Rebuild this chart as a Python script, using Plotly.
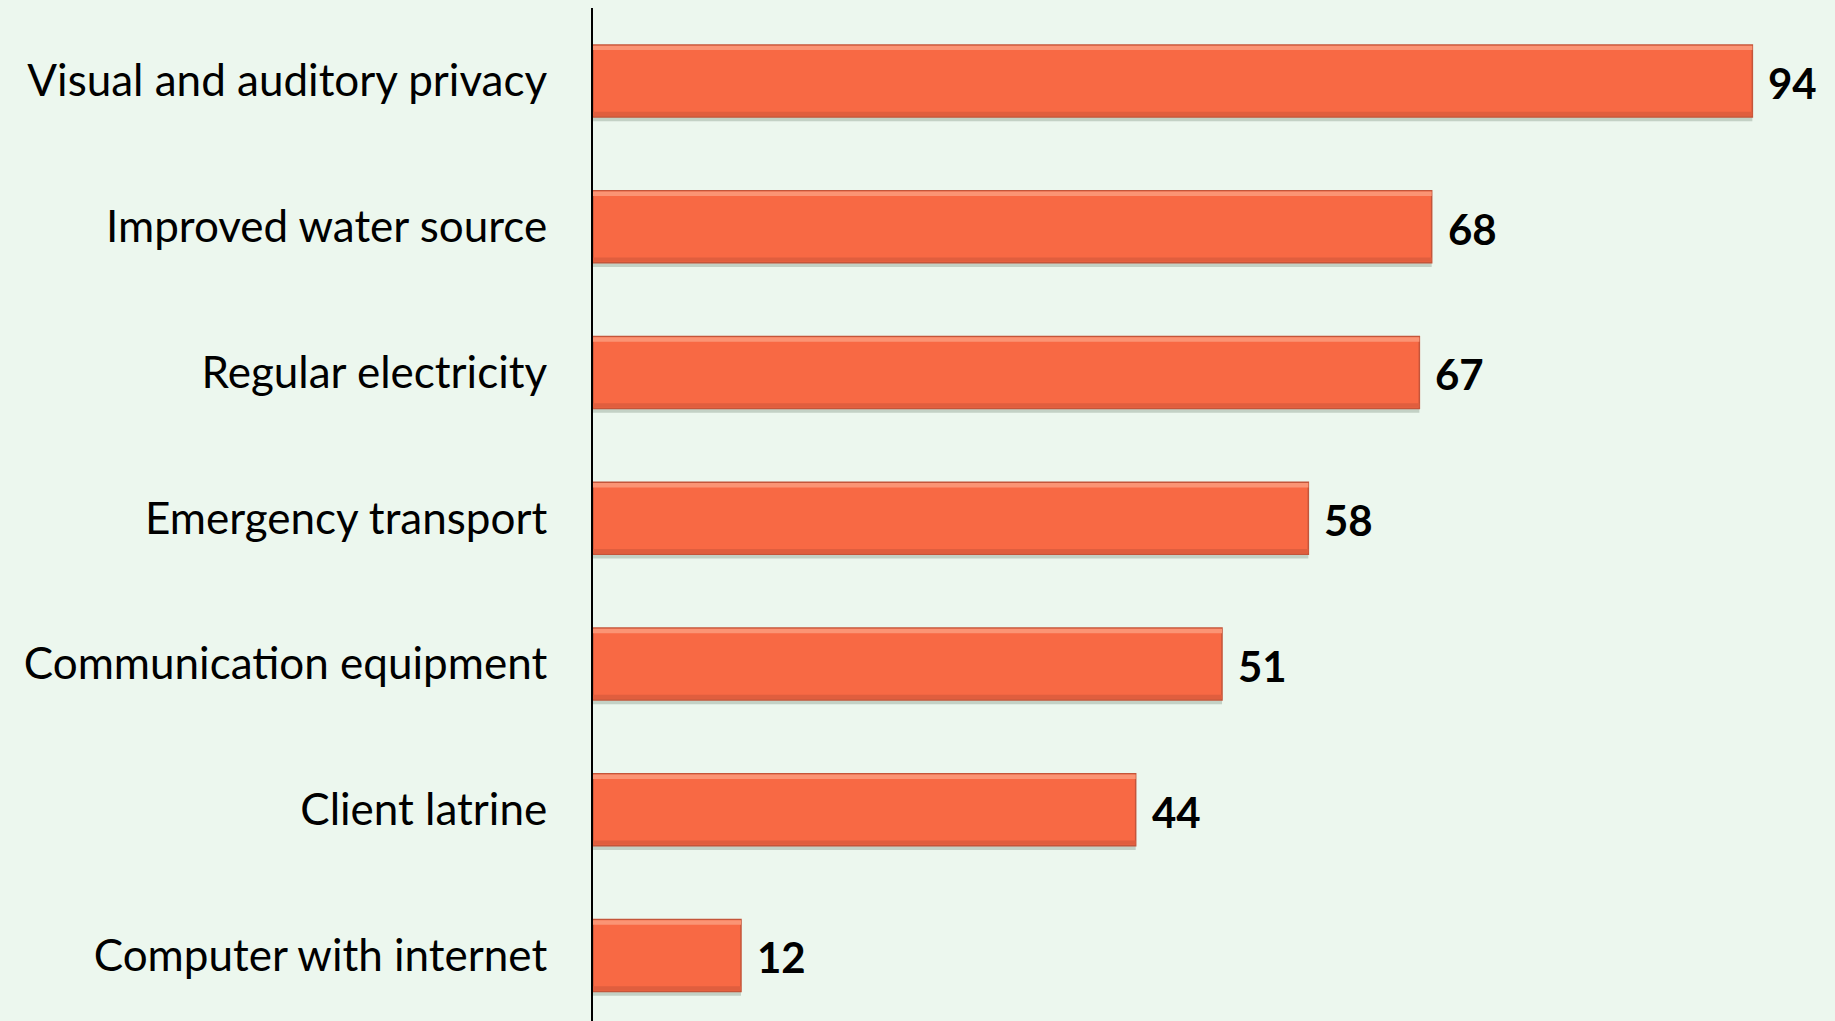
import plotly.graph_objects as go

# Share of facilities with each amenity (%)
categories = [
    "Visual and auditory privacy",
    "Improved water source",
    "Regular electricity",
    "Emergency transport",
    "Communication equipment",
    "Client latrine",
    "Computer with internet",
]
values = [94, 68, 67, 58, 51, 44, 12]

BG = "#ECF7EE"
BAR = "#F86944"
BAR_W = 0.494

fig = go.Figure()

# soft drop shadow under each bar
fig.add_trace(go.Bar(
    y=categories, x=values, orientation="h",
    width=BAR_W, offset=-BAR_W / 2 + 0.03,
    marker=dict(color="rgba(90,110,95,0.28)", line=dict(width=0)),
    hoverinfo="skip", showlegend=False,
))

# main bars
fig.add_trace(go.Bar(
    y=categories, x=values, orientation="h",
    width=BAR_W, offset=-BAR_W / 2,
    marker=dict(color=BAR, line=dict(color="#C4553A", width=1.5)),
    showlegend=False,
))

# bevel: light upper edge and darker lower edge
fig.add_trace(go.Bar(
    y=categories, x=values, orientation="h",
    width=0.03, offset=-BAR_W / 2 + 0.006,
    marker=dict(color="#FB9474", line=dict(width=0)),
    hoverinfo="skip", showlegend=False,
))
fig.add_trace(go.Bar(
    y=categories, x=values, orientation="h",
    width=0.03, offset=BAR_W / 2 - 0.036,
    marker=dict(color="#E05E3E", line=dict(width=0)),
    hoverinfo="skip", showlegend=False,
))

# value labels just past each bar end
for cat, v in zip(categories, values):
    fig.add_annotation(
        x=v, y=cat, text=f"<b>{v}</b>", showarrow=False,
        xanchor="left", yanchor="middle", xshift=14, yshift=-2,
        font=dict(family="Lato, Open Sans, sans-serif", size=42, color="#000000"),
    )

fig.update_layout(
    width=1835, height=1021,
    margin=dict(l=593, r=0, t=8, b=0),
    paper_bgcolor=BG, plot_bgcolor=BG,
    barmode="overlay",
    font=dict(family="Lato, Open Sans, sans-serif", size=44, color="#000000"),
)
fig.update_xaxes(
    range=[0, 100.7], showgrid=False, zeroline=False,
    showticklabels=False, showline=False,
)
fig.update_yaxes(
    type="category", categoryorder="array", categoryarray=categories,
    range=[6.45, -0.5], showgrid=False, zeroline=False,
    showline=True, linecolor="#000000", linewidth=2,
    ticks="", ticklabelstandoff=35,
)

fig.write_html("out.html")
